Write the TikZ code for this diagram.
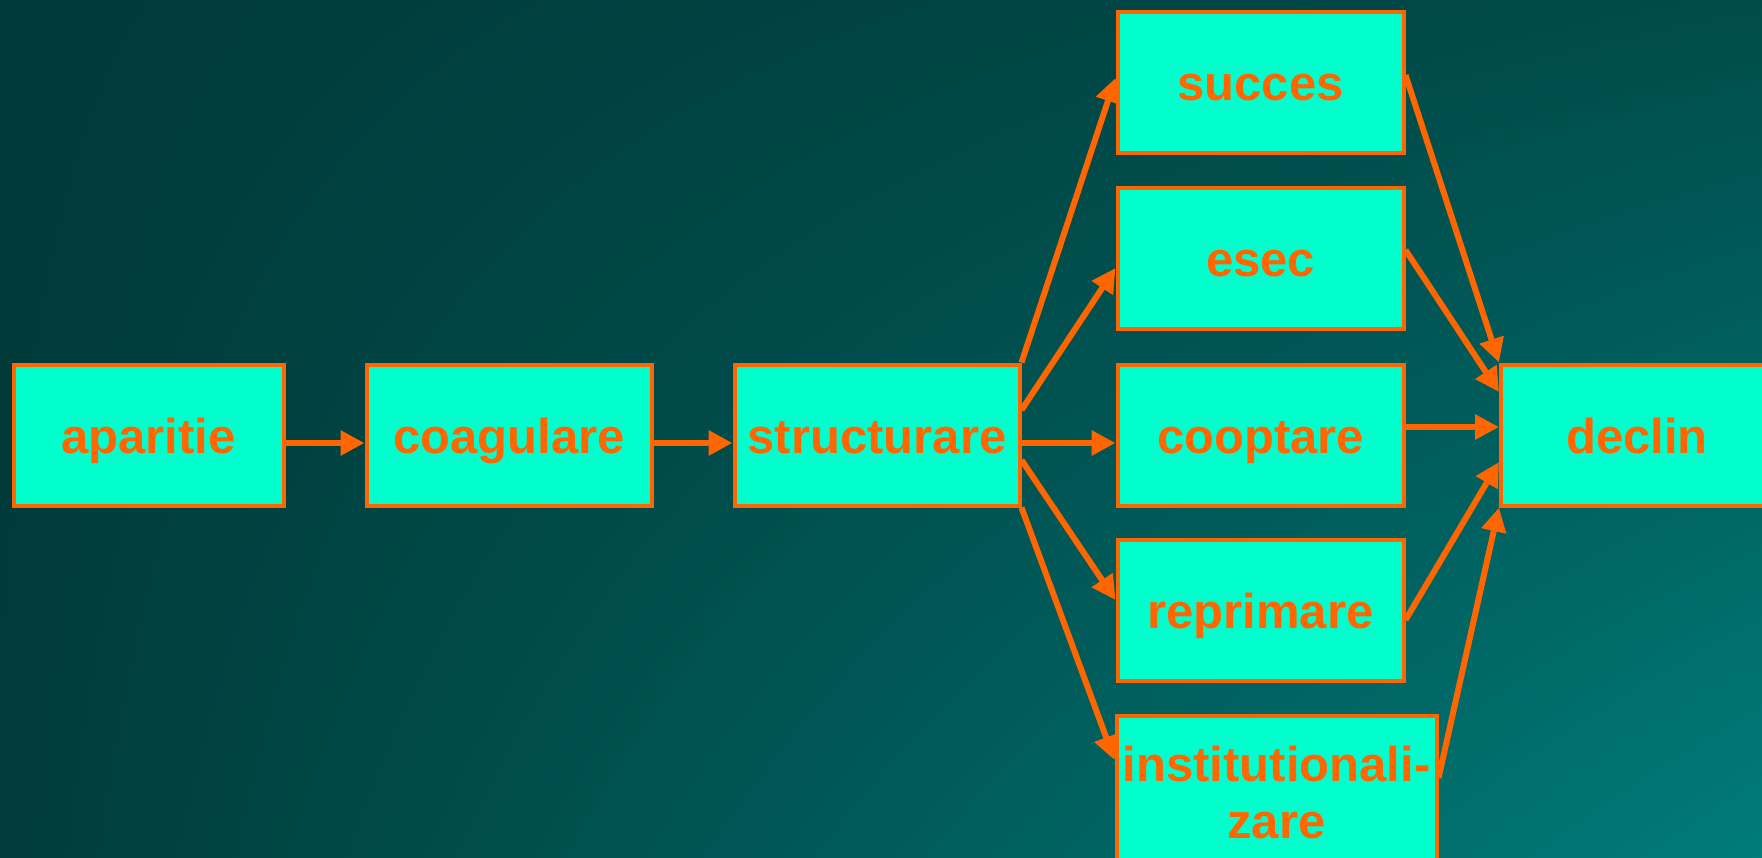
\documentclass[tikz,border=0pt]{standalone}
\usepackage{fontspec}
\setmainfont{Liberation Sans}
\usetikzlibrary{arrows.meta,shadings}

\definecolor{boxfill}{HTML}{00FFCC}
\definecolor{edgeorange}{HTML}{FF6600}
\definecolor{bgtl}{HTML}{003A3A}
\definecolor{bgtr}{HTML}{004C4A}
\definecolor{bgbl}{HTML}{003C3A}
\definecolor{bgbr}{HTML}{007C7A}

\begin{document}
\begin{tikzpicture}[x=1pt,y=-1pt,
    stage/.style={draw=edgeorange, line width=4pt, fill=boxfill, text=edgeorange,
        font=\bfseries\fontsize{49}{57}\selectfont, inner sep=0pt,
        minimum width=286pt, minimum height=141pt, text height=40pt, text depth=4pt},
    link/.style={draw=edgeorange, line width=6pt, -{Triangle[length=24pt,width=24pt]}}]

    % Fix the frame and draw the background
    \useasboundingbox (0,0) rectangle (1762,857);
    \clip (0,0) rectangle (1762,857);
    \shade[upper left=bgtl, upper right=bgtr, lower left=bgbl, lower right=bgbr]
        (0,0) rectangle (1762,857);

    % Main chain
    \node[stage, minimum width=270pt] (apar) at (148.5,435) {aparitie};
    \node[stage, minimum width=285pt] (coag) at (509,435) {coagulare};
    \node[stage, minimum width=285pt] (struct) at (877,435) {structurare};

    % Possible outcomes
    \node[stage] (succes) at (1260.5,82.5) {succes};
    \node[stage] (esec) at (1260.5,258.5) {esec};
    \node[stage] (coopt) at (1260.5,435) {cooptare};
    \node[stage] (repr) at (1260.5,610.5) {reprimare};
    \node[stage, minimum width=320pt, minimum height=153pt, text height=, text depth=, align=center]
        (inst) at (1276.5,792) {institutionali-\\zare};

    % Final stage
    \node[stage, minimum width=272pt] (declin) at (1637,435) {declin};

    % Arrows along the chain
    \draw[link] ([yshift=-8pt]apar.east) -- ([yshift=-8pt]coag.west);
    \draw[link] ([yshift=-8pt]coag.east) -- ([yshift=-8pt]struct.west);

    % Arrows out of structurare
    \draw[link] (struct.north east) -- ([yshift=4.5pt]succes.west);
    \draw[link] ([yshift=25pt]struct.east) -- ([yshift=-9.5pt]esec.west);
    \draw[link] ([yshift=-8pt]struct.east) -- ([yshift=-8pt]coopt.west);
    \draw[link] ([yshift=-25pt]struct.east) -- ([yshift=10.5pt]repr.west);
    \draw[link] (struct.south east) -- ([yshift=32pt]inst.west);

    % Arrows into declin
    \draw[link] ([yshift=7.5pt]succes.east) -- (declin.north west);
    \draw[link] ([yshift=8.5pt]esec.east) -- ([yshift=43pt]declin.west);
    \draw[link] ([yshift=8pt]coopt.east) -- ([yshift=8pt]declin.west);
    \draw[link] ([yshift=-9.5pt]repr.east) -- ([yshift=-27pt]declin.west);
    \draw[link] ([yshift=14pt]inst.east) -- (declin.south west);

\end{tikzpicture}
\end{document}
